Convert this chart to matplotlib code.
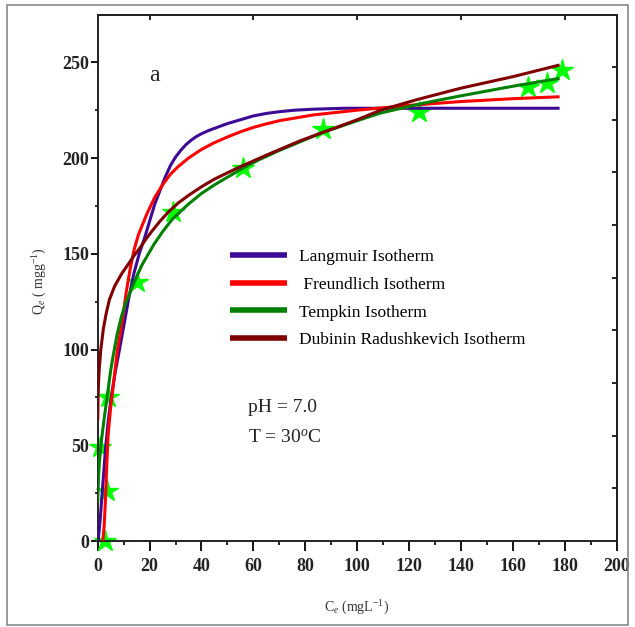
import matplotlib
matplotlib.use("Agg")
import matplotlib.pyplot as plt
from matplotlib.patches import Rectangle

plt.rcParams['font.family'] = ['Liberation Serif', 'DejaVu Serif']
plt.rcParams['mathtext.fontset'] = 'custom'
plt.rcParams['mathtext.rm'] = 'Liberation Serif'
plt.rcParams['mathtext.it'] = 'Liberation Serif:italic'

# Experimental data (stars)
exp_ce = [3, 3.5, 1.0, 3.8, 15, 29, 56, 87, 124, 166, 173, 179]
exp_qe = [0, 26, 49, 75, 135, 172, 195, 215, 224, 237, 239, 246]

# Langmuir isotherm curve
lang_ce = [0.2, 1, 2, 3, 4, 5, 6, 7, 8.4, 10, 12, 14, 16, 18, 20, 22, 24, 26, 28, 30, 32, 34, 36,
           38, 40, 43, 46, 50, 55, 60, 65, 70, 76, 83, 95, 178]
lang_qe = [0, 12, 30, 48, 62, 73, 82, 90, 100, 112, 127, 140, 150, 158, 167, 176, 183, 190, 196,
           200.5, 204, 207, 209.3, 211.2, 212.7, 214.5, 216, 218, 220, 222, 223.3, 224.2, 225,
           225.5, 226, 226]

# Freundlich isotherm curve
freu_ce = [2, 2.5, 3, 3.5, 4, 5, 6, 7.6, 9, 10, 11, 12.5, 14, 15.7, 17.5, 19, 22, 25, 28, 31, 35,
           40, 44.6, 50, 55, 60, 64, 70, 83, 100, 120, 140, 160, 178]
freu_qe = [0, 8, 22, 40, 55, 70, 81, 100, 111, 120, 130, 142, 152, 160, 166, 171, 179.5, 186,
           191.5, 195.5, 200, 204.5, 207.8, 211, 213.7, 216, 217.5, 219.5, 222.5, 225, 227.5,
           229.5, 231, 232]

# Tempkin isotherm curve
temp_ce = [0, 0.3, 0.7, 1.4, 2.5, 3.7, 5, 6, 7.5, 9.2, 11, 13.9, 17, 21.7, 25, 28.7, 35, 40, 45,
           50, 55, 62, 70, 78, 86, 100, 109, 125, 140, 160, 178]
temp_qe = [20, 33, 42, 52, 64, 76, 89, 97, 108, 117.5, 125, 134.5, 144, 155, 161.5, 168, 176,
           181.5, 186, 190, 194, 199, 204, 208.5, 213, 219.5, 223.5, 228.5, 232.5, 237.5, 241.6]

# Dubinin-Radushkevich isotherm curve
dr_ce = [0, 0.15, 0.3, 0.6, 1.2, 2.2, 3.3, 4.5, 6.5, 9.2, 12, 14, 16.5, 18.6, 21, 24, 27, 31, 35,
         40, 45, 50, 55, 65, 78, 90, 100, 109, 123, 140, 160, 178]
dr_qe = [63, 75, 82, 90, 100, 111, 119, 126, 133, 139.5, 145, 149, 153.5, 157.7, 162, 167, 171.5,
         176.5, 180.5, 185, 189, 192.3, 195.5, 201.5, 209, 215, 220, 225, 230.5, 236.5, 242.5,
         248.6]

series = [
    (lang_ce, lang_qe, '#3d0a96', 'Langmuir Isotherm'),
    (freu_ce, freu_qe, '#ff0000', ' Freundlich Isotherm'),
    (temp_ce, temp_qe, '#008000', 'Tempkin Isotherm'),
    (dr_ce, dr_qe, '#800000', 'Dubinin Radushkevich Isotherm'),
]

W, H = 635, 627
fig = plt.figure(figsize=(W / 100, H / 100), dpi=100)
ax = fig.add_axes([97.7 / W, 1 - 541 / H, (616.7 - 97.7) / W, (541 - 15) / H])

ax.plot(exp_ce, exp_qe, linestyle='none', marker='*', ms=16, color='#00ff00',
        markeredgecolor='#00ff00', zorder=2, clip_on=False)

handles = []
for xs, ys, c, lab in series:
    ax.plot(xs, ys, color=c, lw=2.2, zorder=3, solid_capstyle='butt', solid_joinstyle='round')
    h, = ax.plot([], [], color=c, lw=4, label=lab, solid_capstyle='butt')
    handles.append(h)

ax.set_xlim(0, 200)
ax.set_ylim(0, 274.7)
ax.set_xticks(range(0, 201, 20))
ax.set_xticks(range(10, 200, 20), minor=True)
ax.set_yticks(range(0, 251, 50))
ax.set_yticks(range(25, 275, 50), minor=True)

for s in ax.spines.values():
    s.set_linewidth(1.4)
    s.set_color('#222222')

ax.tick_params(axis='x', which='major', direction='out', length=7.5, width=1.3,
               labelsize=13, pad=5, top=False)
ax.tick_params(axis='x', which='minor', direction='out', length=3, width=1.2, top=False)
ax.tick_params(axis='y', which='major', direction='out', length=5, width=1.3,
               labelsize=13, pad=1, right=False)
ax.tick_params(axis='y', which='minor', direction='out', length=2.5, width=1.2, right=False)
for lbl in ax.get_xticklabels() + ax.get_yticklabels():
    lbl.set_fontweight('bold')
    lbl.set_color('#222222')

secx = ax.secondary_xaxis('top')
secx.set_xticks(range(20, 201, 40))
secx.tick_params(direction='in', length=3.5, width=1.2, labeltop=False)
secx.spines['top'].set_linewidth(1.4)

right_ticks = [27.5 * k for k in range(1, 10)]
secy = ax.secondary_yaxis('right')
secy.set_yticks(right_ticks)
secy.tick_params(direction='in', length=3.5, width=1.2, labelright=False)
secy.spines['right'].set_linewidth(1.4)

ax.legend(handles=handles, loc='upper left', bbox_to_anchor=(0.255, 0.5555),
          frameon=False, fontsize=12.5, handlelength=3.3, handletextpad=0.7,
          labelspacing=0.67, borderpad=0, borderaxespad=0)

ax.text(22, 243, 'a', fontsize=17, ha='center', va='center', color='#222222')
ax.text(58, 69.5, 'pH = 7.0', fontsize=14, ha='left', va='center', color='#222222')
ax.text(58, 53.8, 'T = 30$^{o}$C', fontsize=14, ha='left', va='center', color='#222222')

fig.text(357 / W, 1 - 608 / H, r'C$_e$ (mgL$^{-1}$)', fontsize=10, ha='center', va='center',
         color='#333333')
fig.text(40 / W, 1 - 281 / H, r'Q$_e$ ( mgg$^{-1}$)', fontsize=10, ha='center', va='center',
         rotation=90, color='#333333')

fig.add_artist(Rectangle((7 / W, 1 - 625 / H), (628 - 7) / W, (625 - 5) / H,
                         transform=fig.transFigure, fill=False, edgecolor='#888888', lw=1.2))

fig.savefig('out.png', dpi=100)
